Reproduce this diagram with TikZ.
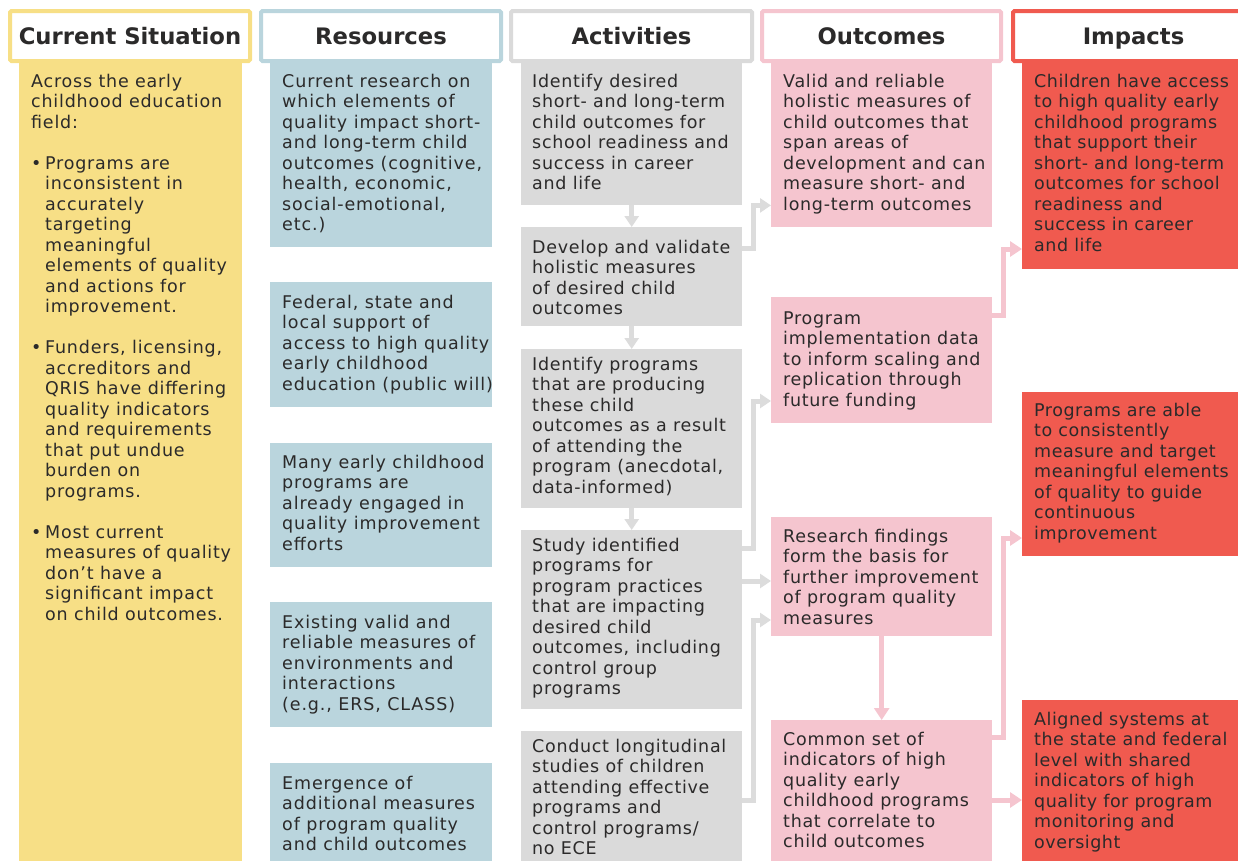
\documentclass[tikz,border=0pt]{standalone}
\usepackage{fontspec}
\setmainfont{DejaVu Sans}[LetterSpace=5]
\newfontfamily\hdrfam{DejaVu Sans}
\usetikzlibrary{arrows.meta,calc}
\definecolor{cyel}{HTML}{F7DF86}
\definecolor{cblue}{HTML}{BAD5DD}
\definecolor{cgray}{HTML}{DADADA}
\definecolor{cpink}{HTML}{F5C5CF}
\definecolor{cred}{HTML}{F05A4F}
\definecolor{cgline}{HTML}{DCDCDC}
\definecolor{ctext}{HTML}{2B2A2A}
\newcommand\bodyfont{\fontsize{17.5}{20.5}\selectfont}
\newcommand\hdrfont{\hdrfam\bfseries\fontsize{22.7}{26}\selectfont}
\newcommand\bul{\makebox[14pt][l]{•}}
\newcommand\ind{\hspace*{14pt}}
\tikzset{
  hdr/.style={draw=#1, line width=4pt, fill=white, rounded corners=1.5pt,
    minimum height=50pt, inner sep=0pt, font=\hdrfont, text=ctext,
    text height=16.5pt, text depth=0pt},
  bx/.style={fill=#1, inner sep=0pt, anchor=north west, draw=none},
  txt/.style={anchor=north west, inner sep=0pt, align=left, font=\bodyfont\addfontfeature{LetterSpace=#1}, text=ctext},
  txt/.default=5,
  garr/.style={draw=cgline, line width=5pt, -{Triangle[width=14pt,length=11pt]}},
  parr/.style={draw=cpink, line width=5pt, -{Triangle[width=15pt,length=12pt]}}
}
\begin{document}
\begin{tikzpicture}[x=1pt,y=-1pt]
\useasboundingbox (0,0) rectangle (1238,860);
\begin{scope}
\clip (0,0) rectangle (1238,860);
% headers
\node[hdr=cyel, minimum width=240pt] (h1) at (130,36) {Current Situation};
\node[hdr=cblue, minimum width=240pt] (h2) at (381,36) {Resources};
\node[hdr=cgray, minimum width=241pt] (h3) at (631.5,36) {Activities};
\node[hdr=cpink, minimum width=239pt] (h4) at (881.5,36) {Outcomes};
\node[hdr=cred, minimum width=241pt] (h5) at (1133.5,36) {Impacts};
% boxes
\node[bx=cyel, minimum width=223pt, minimum height=800pt] (cs) at (19,63) {};
\node[bx=cblue, minimum width=222pt, minimum height=184pt] (r1) at (270,63) {};
\node[bx=cblue, minimum width=222pt, minimum height=125pt] (r2) at (270,282) {};
\node[bx=cblue, minimum width=222pt, minimum height=124pt] (r3) at (270,443) {};
\node[bx=cblue, minimum width=222pt, minimum height=125pt] (r4) at (270,602) {};
\node[bx=cblue, minimum width=222pt, minimum height=100pt] (r5) at (270,763) {};
\node[bx=cgray, minimum width=221pt, minimum height=142pt] (a1) at (521,63) {};
\node[bx=cgray, minimum width=221pt, minimum height=99pt] (a2) at (521,227) {};
\node[bx=cgray, minimum width=221pt, minimum height=159pt] (a3) at (521,349) {};
\node[bx=cgray, minimum width=221pt, minimum height=179pt] (a4) at (521,530) {};
\node[bx=cgray, minimum width=221pt, minimum height=132pt] (a5) at (521,731) {};
\node[bx=cpink, minimum width=221pt, minimum height=164pt] (o1) at (771,63) {};
\node[bx=cpink, minimum width=221pt, minimum height=126pt] (o2) at (771,297) {};
\node[bx=cpink, minimum width=221pt, minimum height=119pt] (o3) at (771,517) {};
\node[bx=cpink, minimum width=221pt, minimum height=143pt] (o4) at (771,720) {};
\node[bx=cred, minimum width=220pt, minimum height=206pt] (i1) at (1022,63) {};
\node[bx=cred, minimum width=220pt, minimum height=164pt] (i2) at (1022,392) {};
\node[bx=cred, minimum width=220pt, minimum height=163pt] (i3) at (1022,700) {};
% texts
\node[txt=4.5] (tcs) at (31,72.5) {\strut Across the early\\childhood education\\field:\\[20.5pt]
\bul Programs are\\\ind inconsistent in\\\ind accurately\\\ind targeting\\\ind meaningful\\\ind elements of quality\\\ind and actions for\\\ind improvement.\\[20.5pt]
\bul Funders, licensing,\\\ind accreditors and\\\ind QRIS have differing\\\ind quality indicators\\\ind and requirements\\\ind that put undue\\\ind burden on\\\ind programs.\\[20.5pt]
\bul Most current\\\ind measures of quality\\\ind don’t have a\\\ind significant impact\\\ind on child outcomes.};
\node[txt] (tr1) at (282,72.5) {\strut Current research on\\which elements of\\quality impact short-\\and long-term child\\outcomes (cognitive,\\health, economic,\\social-emotional,\\etc.)};
\node[txt] (tr2) at (282,293.5) {\strut Federal, state and\\local support of\\access to high quality\\early childhood\\education (public will)};
\node[txt] (tr3) at (282,453.5) {\strut Many early childhood\\programs are\\already engaged in\\quality improvement\\efforts};
\node[txt] (tr4) at (282,613.5) {\strut Existing valid and\\reliable measures of\\environments and\\interactions\\(e.g., ERS, CLASS)};
\node[txt] (tr5) at (282,774.5) {\strut Emergence of\\additional measures\\of program quality\\and child outcomes};
\node[txt=4] (ta1) at (532,72.5) {\strut Identify desired\\short- and long-term\\child outcomes for\\school readiness and\\success in career\\and life};
\node[txt=4] (ta2) at (532,238.5) {\strut Develop and validate\\holistic measures\\of desired child\\outcomes};
\node[txt=4] (ta3) at (532,355.5) {\strut Identify programs\\that are producing\\these child\\outcomes as a result\\of attending the\\program (anecdotal,\\data-informed)};
\node[txt=4] (ta4) at (532,536.5) {\strut Study identified\\programs for\\program practices\\that are impacting\\desired child\\outcomes, including\\control group\\programs};
\node[txt=4] (ta5) at (532,737.5) {\strut Conduct longitudinal\\studies of children\\attending effective\\programs and\\control programs/\\no ECE};
\node[txt=4] (to1) at (783,72.5) {\strut Valid and reliable\\holistic measures of\\child outcomes that\\span areas of\\development and can\\measure short- and\\long-term outcomes};
\node[txt=4] (to2) at (783,309.5) {\strut Program\\implementation data\\to inform scaling and\\replication through\\future funding};
\node[txt=4] (to3) at (783,527.5) {\strut Research findings\\form the basis for\\further improvement\\of program quality\\measures};
\node[txt=4] (to4) at (783,730.5) {\strut Common set of\\indicators of high\\quality early\\childhood programs\\that correlate to\\child outcomes};
\node[txt=3] (ti1) at (1034,72.5) {\strut Children have access\\to high quality early\\childhood programs\\that support their\\short- and long-term\\outcomes for school\\readiness and\\success in career\\and life};
\node[txt=3] (ti2) at (1034,401.5) {\strut Programs are able\\to consistently\\measure and target\\meaningful elements\\of quality to guide\\continuous\\improvement};
\node[txt=3] (ti3) at (1034,710.5) {\strut Aligned systems at\\the state and federal\\level with shared\\indicators of high\\quality for program\\monitoring and\\oversight};
% activity chain
\draw[garr] (a1.south) -- (a2.north);
\draw[garr] (a2.south) -- (a3.north);
\draw[garr] (a3.south) -- (a4.north);
% activities to outcomes
\draw[garr] ([yshift=-21pt]a2.north east) -- ++(11,0) |- ([yshift=22pt]o1.south west);
\draw[garr] ([yshift=-18pt]a4.north east) -- ++(11,0) |- ([yshift=-104pt]o2.north west);
\coordinate (o3in) at ([yshift=-64pt]o3.north west);
\draw[garr] (a4.east |- o3in) -- (o3in);
\draw[garr] ([yshift=-69pt]a5.north east) -- ++(11,0) |- ([yshift=-103pt]o3.north west);
% outcomes to impacts
\draw[parr] ([yshift=-18pt]o2.north east) -- ++(11,0) |- ([yshift=-186pt]i1.north west);
\draw[parr] (o3.south) -- (o4.north);
\draw[parr] ([yshift=-17pt]o4.north east) -- ++(11,0) |- ([yshift=-146pt]i2.north west);
\coordinate (i3in) at ([yshift=-100pt]i3.north west);
\draw[parr] (o4.east |- i3in) -- (i3in);
\end{scope}
\end{tikzpicture}
\end{document}
